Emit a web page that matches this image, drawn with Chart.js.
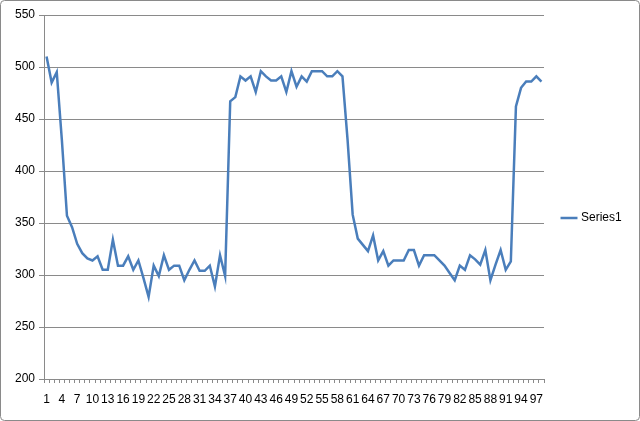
<!DOCTYPE html>
<html>
<head>
<meta charset="utf-8">
<script src="https://cdn.jsdelivr.net/npm/chart.js@4"></script>
<style>
  html, body { margin: 0; padding: 0; background: #fff; }
  #wrap { width: 640px; height: 421px; position: relative; }
</style>
</head>
<body>
<div id="wrap"><canvas id="lineChart"></canvas></div>
<script>
const categories = [];
for (let i = 1; i <= 98; i++) categories.push(String(i));

const series1 = [
  510, 485, 495, 430, 357, 346, 330, 321, 316, 314,
  318, 305, 305, 334, 309, 309, 318, 305, 314, 297,
  279, 309, 299, 319, 305, 309, 309, 295, 305, 314,
  304, 304, 309, 289, 319, 299, 467, 471, 491, 487,
  491, 476, 496, 491, 487, 487, 491, 476, 496, 481,
  491, 486, 496, 496, 496, 491, 491, 496, 491, 430,
  358, 335, 329, 323, 338, 314, 323, 309, 314, 314,
  314, 324, 324, 309, 319, 319, 319, 314, 309, 302,
  295, 309, 305, 319, 315, 310, 324, 295, 310, 324,
  305, 313, 462, 480, 486, 486, 491, 486
];

const yMin = 200;
const yMax = 550;
const yStep = 50;

const labelFont = { family: 'Liberation Sans', size: 12 };

// grey rounded border round the whole chart, like the spreadsheet frame
const frame = {
  id: 'frame',
  afterInit(chart) {
    // fixed legend width so the plot ends where the reference does
    const legend = chart.legend;
    const fit = legend.fit.bind(legend);
    legend.fit = function () {
      fit();
      this.width = 96;
    };
  },
  beforeDraw(chart) {
    const c = chart.ctx;
    c.save();
    c.strokeStyle = '#8a8a8a';
    c.lineWidth = 1;
    c.beginPath();
    c.roundRect(0.5, 0.5, chart.width - 1, chart.height - 1, 4);
    c.stroke();
    c.restore();
  }
};

const ctx = document.getElementById('lineChart').getContext('2d');

new Chart(ctx, {
  type: 'line',
  data: {
    labels: categories,
    datasets: [{
      label: 'Series1',
      data: series1,
      borderColor: '#4a7ebb',
      backgroundColor: '#4a7ebb',
      borderWidth: 2.5,
      pointRadius: 0,
      tension: 0
    }]
  },
  options: {
    responsive: true,
    maintainAspectRatio: false,
    animation: false,
    layout: { padding: { top: 15, right: 0, left: 0, bottom: 0 } },
    plugins: {
      tooltip: { enabled: false },
      legend: {
        position: 'right',
        labels: {
          usePointStyle: true,
          pointStyle: 'line',
          boxWidth: 20,
          padding: 19,
          color: '#000',
          font: labelFont
        }
      }
    },
    scales: {
      x: {
        offset: true,
        grid: {
          offset: true,
          drawOnChartArea: false,
          tickLength: 4,
          color: '#8a8a8a'
        },
        border: { color: '#8a8a8a' },
        ticks: {
          autoSkip: false,
          maxRotation: 0,
          padding: 9,
          color: '#000',
          font: labelFont,
          callback: function (value, index) {
            return index % 3 === 0 ? categories[index] : '';
          }
        },
        afterFit: function (scale) { scale.height = 42; }
      },
      y: {
        min: yMin,
        max: yMax,
        grid: { color: '#8a8a8a', tickLength: 5 },
        border: { color: '#8a8a8a' },
        ticks: {
          stepSize: yStep,
          padding: 4,
          color: '#000',
          font: labelFont
        },
        afterFit: function (scale) { scale.width = 44; }
      }
    }
  },
  plugins: [frame]
});
</script>
</body>
</html>
